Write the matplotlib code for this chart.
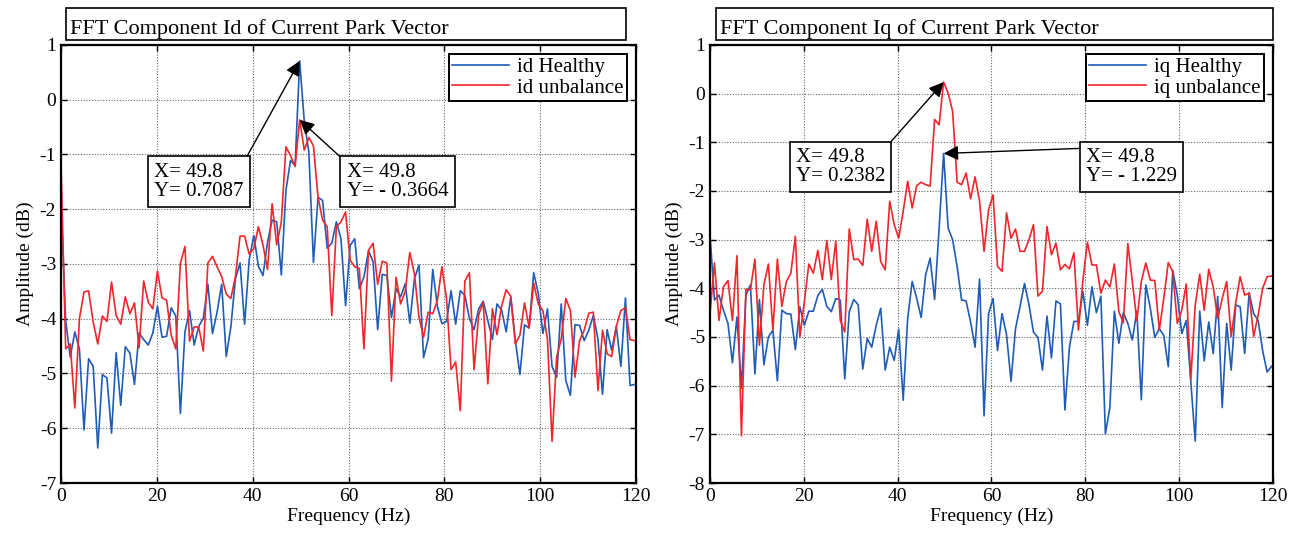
import numpy as np
import matplotlib.pyplot as plt
from matplotlib.patches import Rectangle

plt.rcParams['font.family'] = ['Liberation Serif', 'DejaVu Serif']
plt.rcParams['axes.unicode_minus'] = False

# frequency resolution of the FFT (Hz per bin), peak bin is 49.8 Hz
df = 0.9577
peak_bin = 52

id_healthy = [
    -1.9, -4.03, -4.7, -4.24, -4.55, -6.03, -4.73, -4.87, -6.36, -5.02,
    -5.08, -6.09, -4.62, -5.58, -4.51, -4.63, -5.2, -4.26, -4.38, -4.48,
    -4.26, -3.77, -4.34, -4.32, -3.8, -3.95, -5.73, -4.24, -3.85, -4.48,
    -4.14, -3.99, -3.37, -4.27, -3.88, -3.37, -4.69, -4.15, -3.27, -2.98,
    -4.1, -2.92, -2.48, -3.04, -3.21, -2.6, -2.2, -2.23, -3.2, -1.66,
    -1.11, -1.2, 0.7087, -0.39, -0.96, -2.97, -1.78, -1.84, -2.71, -2.62,
    -2.23, -2.54, -3.76, -2.66, -2.54, -3.45, -3.24, -2.76, -2.96, -4.2,
    -3.19, -3.21, -3.98, -3.45, -3.6, -3.36, -4.08, -3.27, -3.02, -4.71,
    -4.37, -3.1, -3.77, -4.09, -4.05, -3.49, -4.1, -3.49, -3.57, -4.0,
    -4.2, -3.82, -3.68, -4.03, -4.38, -3.73, -3.84, -4.24, -3.6, -4.4,
    -5.02, -4.11, -4.17, -3.16, -3.54, -4.27, -3.82, -4.87, -5.07, -3.73,
    -5.13, -5.4, -4.11, -4.12, -4.4, -4.21, -3.94, -4.37, -5.38, -4.2,
    -4.58, -4.14, -4.87, -3.62, -5.22, -5.2, -5.2]

id_unbalance = [
    -1.2, -4.55, -4.46, -5.63, -4.0, -3.51, -3.49, -4.06, -4.46, -3.95,
    -4.05, -3.33, -3.94, -4.1, -3.6, -3.91, -3.71, -4.53, -3.31, -3.7,
    -3.82, -3.13, -3.62, -3.66, -4.3, -4.55, -2.99, -2.68, -4.41, -4.15,
    -4.15, -4.59, -2.98, -2.86, -3.05, -3.23, -3.55, -3.63, -3.23, -2.49,
    -2.49, -2.82, -2.72, -2.32, -2.65, -3.1, -1.9, -2.65, -2.23, -0.86,
    -1.02, -1.22, -0.3664, -0.92, -0.69, -0.84, -1.78, -2.2, -2.32, -3.94,
    -2.32, -2.23, -2.05, -2.93, -3.05, -3.08, -4.55, -2.75, -2.62, -3.37,
    -2.95, -2.98, -5.14, -3.24, -3.73, -3.5, -2.79, -3.18, -3.97, -4.34,
    -3.88, -3.91, -3.67, -3.05, -3.63, -4.93, -4.79, -5.68, -3.31, -3.16,
    -4.93, -3.93, -3.7, -5.19, -3.82, -4.29, -3.77, -3.47, -3.59, -4.46,
    -4.3, -3.71, -4.16, -3.35, -3.73, -3.85, -4.37, -6.24, -4.7, -4.37,
    -3.63, -3.85, -5.07, -4.4, -4.21, -3.9, -3.88, -5.31, -4.21, -4.64,
    -4.69, -4.14, -3.85, -3.8, -4.38, -4.4, -4.4]

iq_healthy = [
    -2.9, -4.24, -4.14, -4.45, -4.72, -5.53, -4.59, -6.05, -4.14, -3.93,
    -5.76, -4.23, -5.57, -5.0, -4.86, -5.9, -4.45, -4.52, -4.53, -5.26,
    -4.38, -4.76, -4.47, -4.47, -4.15, -4.02, -4.37, -4.48, -4.21, -4.24,
    -5.86, -4.48, -4.23, -4.34, -5.66, -5.03, -5.21, -4.76, -4.41, -5.68,
    -5.21, -5.48, -4.84, -6.3, -4.62, -3.86, -4.2, -4.6, -3.72, -3.38,
    -4.23, -2.76, -1.229, -2.76, -3.0, -3.55, -4.24, -4.26, -4.69, -5.21,
    -3.81, -6.62, -4.52, -4.21, -5.28, -4.52, -4.95, -5.91, -4.83, -4.38,
    -3.9, -4.34, -4.9, -5.01, -5.68, -4.57, -5.43, -4.26, -4.32, -6.5,
    -5.21, -4.68, -4.68, -4.07, -4.76, -3.97, -4.5, -4.16, -6.99, -6.45,
    -4.47, -5.13, -4.5, -4.72, -5.06, -4.47, -6.29, -3.93, -4.41, -5.01,
    -4.83, -4.97, -5.61, -3.63, -4.14, -4.93, -4.66, -5.9, -7.14, -4.47,
    -5.49, -4.69, -5.34, -4.17, -6.45, -4.72, -5.68, -4.34, -4.38, -5.34,
    -4.09, -4.52, -4.66, -5.28, -5.72, -5.6, -5.7]

iq_unbalance = [
    -4.52, -3.48, -4.66, -3.97, -3.84, -4.66, -3.33, -7.03, -4.02, -4.03,
    -3.4, -5.17, -3.93, -3.5, -4.86, -3.4, -4.37, -3.86, -3.69, -2.93,
    -5.0, -4.28, -3.5, -3.69, -3.22, -3.82, -3.02, -3.82, -3.03, -4.66,
    -4.9, -2.78, -3.41, -3.4, -3.53, -2.58, -3.24, -2.62, -3.45, -3.62,
    -2.21, -2.69, -2.97, -2.42, -1.8, -2.35, -1.89, -1.82, -1.87, -1.9,
    -0.53, -0.64, 0.2382, 0.01, -0.36, -1.82, -1.87, -1.63, -2.16, -1.71,
    -2.21, -3.24, -2.39, -2.08, -3.55, -3.65, -2.45, -2.97, -2.78, -3.24,
    -3.24, -3.0, -2.69, -4.16, -4.06, -2.73, -3.31, -3.07, -3.62, -3.51,
    -3.6, -3.27, -4.86, -3.83, -3.05, -3.52, -3.52, -4.1, -3.83, -3.97,
    -3.5, -4.48, -4.71, -3.08, -3.86, -4.66, -3.86, -3.48, -3.83, -3.84,
    -4.86, -4.21, -3.47, -3.66, -4.72, -4.45, -3.91, -5.88, -4.34, -3.71,
    -4.45, -3.61, -3.97, -4.62, -4.21, -3.86, -4.99, -4.31, -3.76, -4.14,
    -4.1, -4.99, -4.55, -4.0, -3.76, -3.75, -3.7]

BLUE = '#1f5cb8'
RED = '#f0262b'


def fmt_tip(x, y):
    sign = '- ' if y < 0 else ''
    if abs(y) < 1:
        num = '%.4f' % abs(y)
    else:
        num = '%.3f' % abs(y)
    return 'X= %.1f\nY= %s%s' % (x, sign, num)


def panel(fig, rect, title, title_rect, healthy, unbalance, names, ymin,
          box1, box2):
    freq = np.arange(len(healthy)) * df
    ax = fig.add_axes(rect)
    ax.plot(freq, healthy, color=BLUE, lw=1.2, label=names[0])
    ax.plot(freq, unbalance, color=RED, lw=1.2, label=names[1])
    ax.set_xlim(0, 120)
    ax.set_ylim(ymin, 1)
    ax.set_xticks(np.arange(0, 121, 20))
    ax.set_yticks(np.arange(ymin, 2, 1))
    ax.grid(True, color='#666666', linestyle=(0, (1, 1.5)), lw=0.8)
    ax.tick_params(direction='in', top=True, right=True, length=4,
                   labelsize=14, width=1)
    for s in ax.spines.values():
        s.set_linewidth(1.6)
    ax.set_xlabel('Frequency (Hz)', fontsize=14, labelpad=2)
    ax.set_ylabel('Amplitude (dB)', fontsize=14, labelpad=4)
    leg = ax.legend(loc='upper right', fontsize=15, fancybox=False,
                    framealpha=1, edgecolor='black', borderaxespad=0.45,
                    handlelength=2.7, handletextpad=0.4, borderpad=0.15,
                    labelspacing=0.05)
    leg.get_frame().set_linewidth(1.4)

    # data tips
    for (xt, yt, series, corner) in (box1, box2):
        val = series[peak_bin]
        ax.annotate(fmt_tip(freq[peak_bin], val), xy=(freq[peak_bin], val),
                    xytext=(xt, yt),
                    ha='left', va='top', fontsize=15, linespacing=1.0,
                    bbox=dict(boxstyle='square,pad=0.3', fc='white',
                              ec='black', lw=1.2),
                    arrowprops=dict(arrowstyle='-|>', mutation_scale=22,
                                    color='black', lw=1, shrinkA=0,
                                    shrinkB=0, relpos=corner))

    fig.add_artist(Rectangle((title_rect[0], title_rect[1]), title_rect[2],
                             title_rect[3], transform=fig.transFigure,
                             fill=False, ec='black', lw=1.2))
    fig.text(title_rect[0] + 0.003, title_rect[1] + 0.002, title,
             fontsize=16, ha='left', va='bottom')
    return ax


fig = plt.figure(figsize=(13.02, 5.33), dpi=100)

panel(fig, [0.0469, 0.0938, 0.4416, 0.8218],
      'FFT Component Id of Current Park Vector',
      [0.0507, 0.925, 0.43, 0.06],
      id_healthy, id_unbalance, ['id Healthy', 'id unbalance'], -7,
      (19.4, -1.15, id_healthy, (1, 1)),
      (59.6, -1.15, id_unbalance, (0, 1)))

panel(fig, [0.5453, 0.0938, 0.4324, 0.8218],
      'FFT Component Iq of Current Park Vector',
      [0.55, 0.925, 0.428, 0.06],
      iq_healthy, iq_unbalance, ['iq Healthy', 'iq unbalance'], -8,
      (18.3, -1.12, iq_unbalance, (1, 1)),
      (80.1, -1.12, iq_healthy, (0, 1)))

fig.savefig('out.png', dpi=100)
